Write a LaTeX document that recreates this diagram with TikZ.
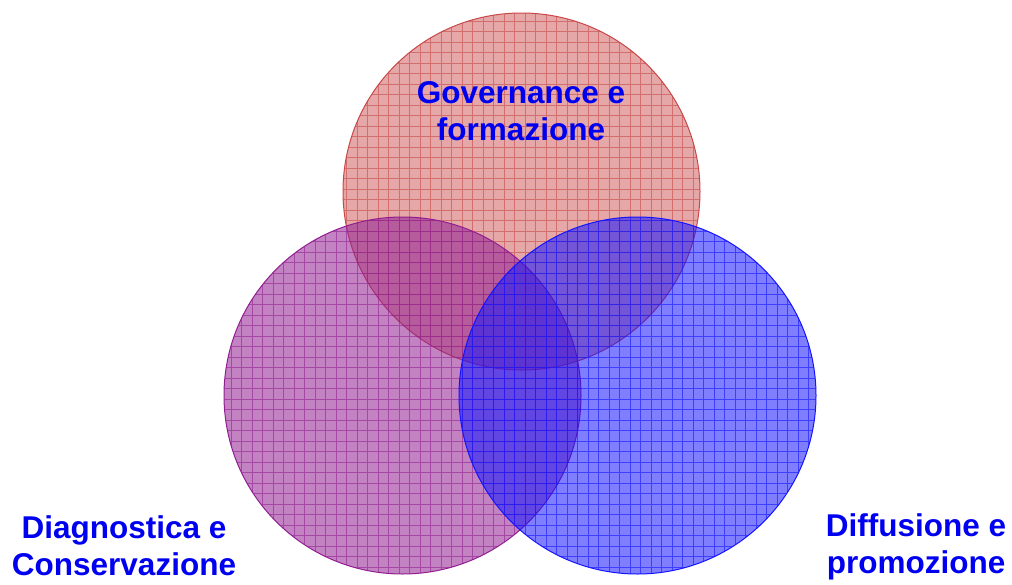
\documentclass[tikz,border=0pt]{standalone}
\usepackage{fontspec}
\setmainfont{Liberation Sans}
\definecolor{topc}{RGB}{200,72,72}
\definecolor{leftc}{RGB}{145,30,145}
\definecolor{rightc}{RGB}{20,20,255}
\definecolor{labc}{RGB}{0,0,240}
\tikzset{
  label/.style={text=labc,font=\fontsize{31.5}{36.5}\selectfont\bfseries,align=center,inner sep=0pt},
}
\newcommand\venncircle[5]{%
  % #1 x, #2 y, #3 colour, #4 name, #5 fill opacity
  \fill[#3,fill opacity=#5] (#1,#2) circle[radius=178.5pt];
  \begin{scope}
    \clip (#1,#2) circle[radius=178.5pt];
    \draw[#3,opacity=0.6,line width=0.9pt,step=10.5pt] ({#1-180},{#2-180}) grid ({#1+180},{#2+180});
  \end{scope}
  \draw[#3,line width=1pt] (#1,#2) circle[radius=178.5pt];
  \coordinate (#4) at (#1,#2);
}
\begin{document}
\begin{tikzpicture}[x=1pt,y=-1pt]
\useasboundingbox (0,0) rectangle (1012,584);
\venncircle{521.5}{191.5}{topc}{top}{0.48}
\venncircle{402.5}{395.5}{leftc}{left}{0.55}
\venncircle{637.5}{395.5}{rightc}{right}{0.55}
\node[label,anchor=base] (gov) at (521,140) {Governance e\\formazione};
\node[label,anchor=base] (diag) at (124,575) {Diagnostica e\\Conservazione};
\node[label,anchor=base] (diff) at (916,573) {Diffusione e\\promozione};
\end{tikzpicture}
\end{document}
